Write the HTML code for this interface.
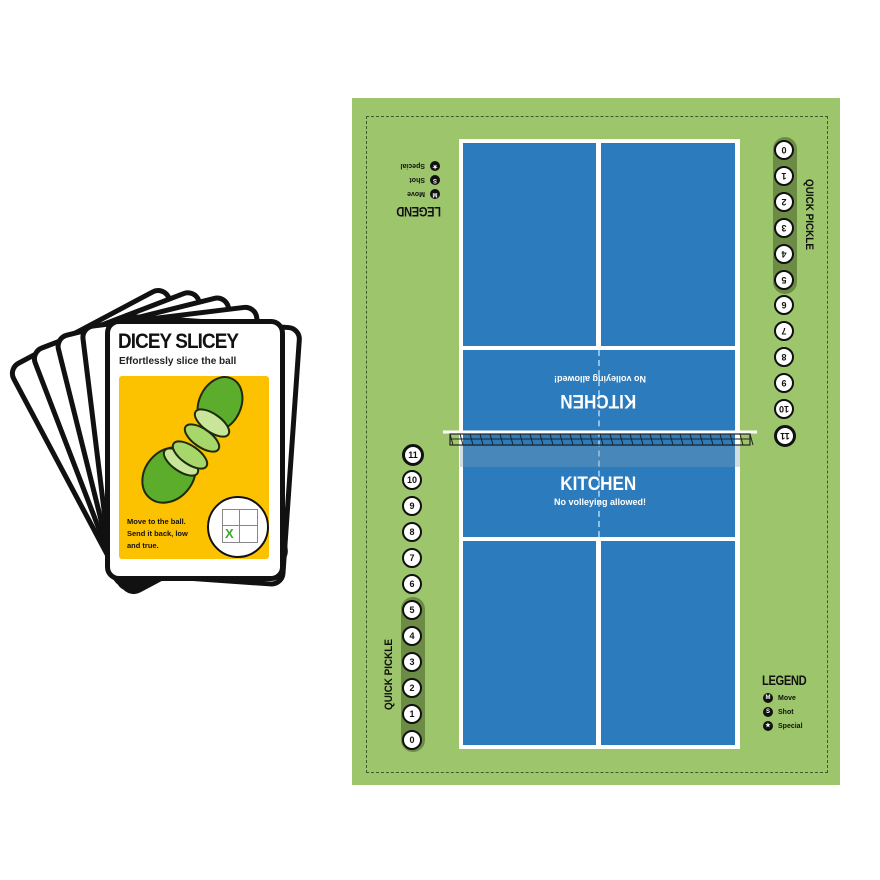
<!DOCTYPE html>
<html><head><style>
body{margin:0;width:880px;height:880px;background:#fff;position:relative;overflow:hidden;font-family:"Liberation Sans",sans-serif}
.a{position:absolute}
.card{position:absolute;left:105px;top:319px;width:170px;height:252px;border:5px solid #111;border-radius:14px;background:#fff;transform-origin:35px 258px}
.c{position:absolute;width:16px;height:16px;border:2.5px solid #111;border-radius:50%;background:#fff;font:bold 9px "Liberation Sans",sans-serif;text-align:center;line-height:16px;color:#111}
.lg{position:absolute;width:70px;height:64px}
.lg .t{position:absolute;left:5px;top:0;font:900 14px "Liberation Sans",sans-serif;letter-spacing:-0.5px;color:#111;transform:scaleX(0.8);transform-origin:left top}
.lg .i{position:absolute;left:6px;font:bold 7px "Liberation Sans",sans-serif;color:#111}
.lg .i b{display:inline-block;width:10px;height:10px;border-radius:50%;background:#111;color:#fff;font-size:6px;text-align:center;line-height:10px;margin-right:5px;vertical-align:middle}
</style></head><body>
<!-- cards -->
<div class="card" style="transform:translate(17px,2px) rotate(-28deg)"></div>
<div class="card" style="transform:translate(13px,2px) rotate(-21deg)"></div>
<div class="card" style="transform:translate(9px,1px) rotate(-14deg)"></div>
<div class="card" style="transform:translate(5px,0) rotate(-7deg)"></div>
<div class="card" style="transform:rotate(4deg);transform-origin:88px 258px"></div>
<div class="card" style="transform:rotate(0deg)">
 <div class="a" style="left:8px;top:6px;font:900 21px 'Liberation Sans',sans-serif;letter-spacing:-1px;color:#111;transform:scaleX(0.9);transform-origin:left">DICEY SLICEY</div>
 <div class="a" style="left:9px;top:32px;font:bold 10px 'Liberation Sans',sans-serif;color:#222">Effortlessly slice the ball</div>
 <div class="a" style="left:9px;top:52px;width:150px;height:183px;background:#fcc200;border-radius:3px">
  <svg width="150" height="183" style="position:absolute;left:0;top:0">
   <g stroke="#1d2a0c" stroke-width="2">
    <ellipse cx="50" cy="99" rx="24" ry="30" fill="#5cad2c" transform="rotate(40 50 99)"/>
    <ellipse cx="62" cy="86" rx="9" ry="20" fill="#c9e59a" transform="rotate(-55 62 86)"/>
    <ellipse cx="71" cy="79" rx="9" ry="20" fill="#a7d66b" transform="rotate(-55 71 79)"/>
    <ellipse cx="83" cy="62" rx="9" ry="20" fill="#a7d66b" transform="rotate(-55 83 62)"/>
    <ellipse cx="101" cy="28" rx="21" ry="28" fill="#5cad2c" transform="rotate(25 101 28)"/>
    <ellipse cx="93" cy="47" rx="9" ry="20" fill="#c9e59a" transform="rotate(-55 93 47)"/>
   </g>
  </svg>
  <div class="a" style="left:8px;top:140px;font:bold 7.5px/12px 'Liberation Sans',sans-serif;color:#111">Move to the ball.<br>Send it back, low<br>and true.</div>
  <div class="a" style="left:88px;top:120px;width:58px;height:58px;border:2px solid #111;border-radius:50%;background:#fff">
   <div class="a" style="left:13px;top:11px;width:34px;height:32px;border:1px solid #888"></div>
   <div class="a" style="left:30px;top:11px;width:1px;height:34px;background:#888"></div>
   <div class="a" style="left:13px;top:27px;width:35px;height:1px;background:#888"></div>
   <div class="a" style="left:16px;top:28px;font:bold 13px 'Liberation Sans',sans-serif;color:#3aaa2a">X</div>
  </div>
 </div>
</div>
<!-- board -->
<div class="a" style="left:352px;top:98px;width:488px;height:687px;background:#9dc66c"></div>
<div class="a" style="left:366px;top:116px;width:460px;height:655px;border:1px dashed #3d5a2a"></div>
<div class="a" style="left:459px;top:139px;width:281px;height:610px;background:#fff"></div>
<div class="a" style="left:463px;top:143px;width:133px;height:203px;background:#2b7bbd"></div>
<div class="a" style="left:601px;top:143px;width:134px;height:203px;background:#2b7bbd"></div>
<div class="a" style="left:463px;top:350px;width:272px;height:187px;background:#2b7bbd"></div>
<div class="a" style="left:463px;top:541px;width:133px;height:204px;background:#2b7bbd"></div>
<div class="a" style="left:601px;top:541px;width:134px;height:204px;background:#2b7bbd"></div>
<div class="a" style="left:598px;top:350px;width:0;height:187px;border-left:2px dashed #8fc0e6"></div>
<!-- net -->
<svg class="a" style="left:440px;top:428px" width="320" height="42">
 <rect x="20" y="17" width="280" height="22" fill="#7f9fb5" opacity="0.35"/>
 <line x1="3" y1="4" x2="317" y2="4" stroke="#fff" stroke-width="3"/>
 <rect x="10" y="6" width="300" height="11" fill="none" stroke="#222" stroke-width="1.2"/>
 <g stroke="#222" stroke-width="1">
  <line x1="10" y1="11" x2="310" y2="11"/>
 </g>
 <g stroke="#222" stroke-width="1" id="m"></g>
</svg>
<div class="a" style="left:463px;top:445px;width:272px;height:1px;background:#333;opacity:.5"></div>
<div class="a" style="left:556px;top:474px;font:900 19px 'Liberation Sans',sans-serif;color:#fff;transform:scaleX(0.9)">KITCHEN</div>
<div class="a" style="left:554px;top:497px;font:bold 9px 'Liberation Sans',sans-serif;color:#fff">No volleying allowed!</div>
<div class="a" style="left:556px;top:389px;font:900 19px 'Liberation Sans',sans-serif;color:#fff;transform:rotate(180deg) scaleX(0.9)">KITCHEN</div>
<div class="a" style="left:554px;top:374px;font:bold 9px 'Liberation Sans',sans-serif;color:#fff;transform:rotate(180deg)">No volleying allowed!</div>
<!-- pills -->
<div class="a" style="left:401px;top:597px;width:24px;height:155px;border-radius:12px;background:#6c8c45"></div>
<div class="a" style="left:773px;top:137px;width:24px;height:157px;border-radius:12px;background:#6c8c45"></div>
<div class="a" style="left:383px;top:710px;font:900 11px 'Liberation Sans',sans-serif;color:#111;transform:rotate(-90deg) scaleX(0.9);transform-origin:left top;white-space:nowrap">QUICK PICKLE</div>
<div class="a" style="left:815px;top:179px;font:900 11px 'Liberation Sans',sans-serif;color:#111;transform:rotate(90deg) scaleX(0.9);transform-origin:left top;white-space:nowrap">QUICK PICKLE</div>
<div id="circ"></div>
<!-- legends -->
<div class="lg" style="left:757px;top:672px">
 <div class="t">LEGEND</div>
 <div class="i" style="top:21px"><b>M</b>Move</div>
 <div class="i" style="top:35px"><b>S</b>Shot</div>
 <div class="i" style="top:49px"><b>★</b>Special</div>
</div>
<div class="lg" style="left:376px;top:156px;transform:rotate(180deg)">
 <div class="t">LEGEND</div>
 <div class="i" style="top:21px"><b>M</b>Move</div>
 <div class="i" style="top:35px"><b>S</b>Shot</div>
 <div class="i" style="top:49px"><b>★</b>Special</div>
</div>
<script>
var h='';
for(var i=0;i<=11;i++){
 var y=740-i*26, b=i==11?'border-width:3.5px;':'';
 h+='<div class="c" style="left:402px;top:'+(y-10)+'px;'+b+'">'+i+'</div>';
 var y2=150+i*25.9;
 h+='<div class="c" style="left:774px;top:'+(y2-10)+'px;transform:rotate(180deg);'+b+'">'+i+'</div>';
}
document.getElementById('circ').innerHTML=h;
var m='';for(var x=10;x<=310;x+=10){m+='<line x1="'+x+'" y1="6" x2="'+(x+3)+'" y2="17"/>';}
document.getElementById('m').innerHTML=m;
</script>
</body></html>
